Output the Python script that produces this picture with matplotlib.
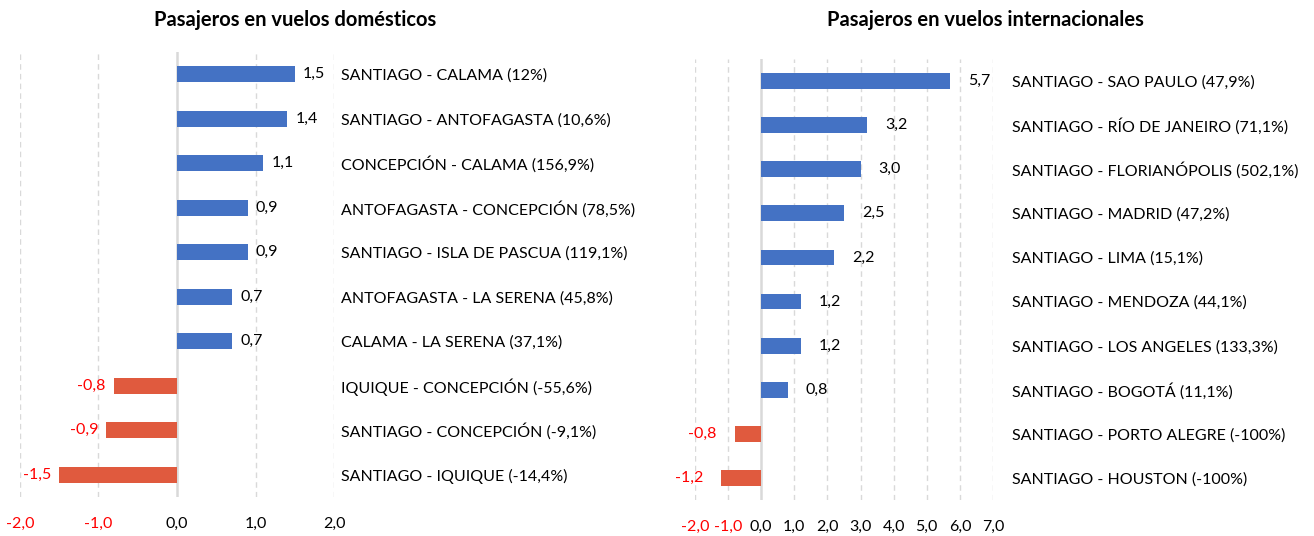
import matplotlib
matplotlib.use("Agg")
import matplotlib.pyplot as plt
import numpy as np

plt.rcParams["font.family"] = ["Lato", "DejaVu Sans"]

# ---------------------------------------------------------------------------
# Data (top to bottom)
# ---------------------------------------------------------------------------
dom_routes = [
    "SANTIAGO - CALAMA (12%)",
    "SANTIAGO - ANTOFAGASTA (10,6%)",
    "CONCEPCIÓN - CALAMA (156,9%)",
    "ANTOFAGASTA - CONCEPCIÓN (78,5%)",
    "SANTIAGO - ISLA DE PASCUA (119,1%)",
    "ANTOFAGASTA - LA SERENA (45,8%)",
    "CALAMA - LA SERENA (37,1%)",
    "IQUIQUE - CONCEPCIÓN (-55,6%)",
    "SANTIAGO - CONCEPCIÓN (-9,1%)",
    "SANTIAGO - IQUIQUE (-14,4%)",
]
dom_values = [1.5, 1.4, 1.1, 0.9, 0.9, 0.7, 0.7, -0.8, -0.9, -1.5]
dom_ticks = [-2, -1, 0, 1, 2]

int_routes = [
    "SANTIAGO - SAO PAULO (47,9%)",
    "SANTIAGO - RÍO DE JANEIRO (71,1%)",
    "SANTIAGO - FLORIANÓPOLIS (502,1%)",
    "SANTIAGO - MADRID (47,2%)",
    "SANTIAGO - LIMA (15,1%)",
    "SANTIAGO - MENDOZA (44,1%)",
    "SANTIAGO - LOS ANGELES (133,3%)",
    "SANTIAGO - BOGOTÁ (11,1%)",
    "SANTIAGO - PORTO ALEGRE (-100%)",
    "SANTIAGO - HOUSTON (-100%)",
]
int_values = [5.7, 3.2, 3.0, 2.5, 2.2, 1.2, 1.2, 0.8, -0.8, -1.2]
int_ticks = [-2, -1, 0, 1, 2, 3, 4, 5, 6, 7]

# ---------------------------------------------------------------------------
# Style
# ---------------------------------------------------------------------------
BLUE = "#4472C4"
ORANGE = "#E05A3E"
RED_TEXT = "#FF0000"
GRID = "#D9D9D9"
FS = 11.5


def fmt(v):
    return f"{v:.1f}".replace(".", ",")


def draw_panel(ax, routes, values, ticks, cat_pad, val_pad):
    y = np.arange(len(routes))
    colors = [BLUE if v >= 0 else ORANGE for v in values]
    ax.barh(y, values, height=0.36, color=colors, zorder=3)

    ax.set_xlim(ticks[0], ticks[-1])
    ax.set_ylim(len(routes) - 0.5, -0.5)

    ax.set_xticks(ticks)
    ax.set_xticklabels([fmt(t) for t in ticks], fontsize=FS)
    for lbl, t in zip(ax.get_xticklabels(), ticks):
        lbl.set_color(RED_TEXT if t < 0 else "black")
    ax.tick_params(axis="x", length=0, pad=14)

    ax.yaxis.tick_right()
    ax.set_yticks(y)
    ax.set_yticklabels(routes, fontsize=FS)
    ax.tick_params(axis="y", length=0, pad=cat_pad)

    for s in ax.spines.values():
        s.set_visible(False)
    for t in ticks:
        if t != 0:
            ax.axvline(t, color=GRID, lw=1, ls=(0, (4, 3)), zorder=1)
    ax.axvline(0, color=GRID, lw=1.8, zorder=2)

    for yi, v in zip(y, values):
        if v >= 0:
            ax.annotate(fmt(v), (v, yi), xytext=(val_pad, 0), textcoords="offset points",
                        ha="left", va="center", fontsize=FS, color="black")
        else:
            ax.annotate(fmt(v), (v, yi), xytext=(-val_pad, 0), textcoords="offset points",
                        ha="right", va="center", fontsize=FS, color=RED_TEXT)


fig = plt.figure(figsize=(13.14, 5.36), dpi=100)

ax_dom = fig.add_axes([0.0152, 0.0728, 0.2390, 0.830])
draw_panel(ax_dom, dom_routes, dom_values, dom_ticks, cat_pad=5, val_pad=6)

ax_int = fig.add_axes([0.5289, 0.0672, 0.2268, 0.8227])
draw_panel(ax_int, int_routes, int_values, int_ticks, cat_pad=14, val_pad=13)

fig.text(295 / 1314, 1 - 20 / 536, "Pasajeros en vuelos domésticos",
         ha="center", va="center", fontsize=14.5, fontweight="bold")
fig.text(985 / 1314, 1 - 20 / 536, "Pasajeros en vuelos internacionales",
         ha="center", va="center", fontsize=14.5, fontweight="bold")

fig.savefig("out.png", dpi=100)
